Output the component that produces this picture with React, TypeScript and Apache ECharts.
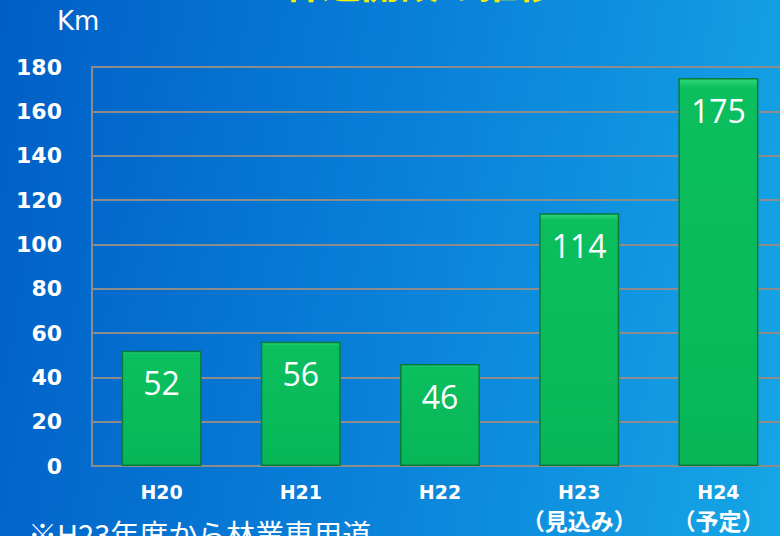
import React, { useEffect, useRef } from "react";
import * as echarts from "echarts";

const categories = ["H20", "H21", "H22", "H23\n（見込み）", "H24\n（予定）"];
const values = [52, 56, 46, 114, 175];
const yTicks = { min: 0, max: 180, interval: 20 };
const titleText = "林道開設の推移";
const unitText = "Km";
const noteText = "※H23年度から林業専用道";

export default function App() {
  const ref = useRef<HTMLDivElement>(null);
  useEffect(() => {
    if (!ref.current) return;
    const chart = echarts.init(ref.current, null, { renderer: "svg" });
    chart.setOption({
      animation: false,
      grid: { left: 92, top: 67, width: 696, bottom: 70, containLabel: false, outerBoundsMode: "none" },
      xAxis: {
        type: "category",
        data: categories,
        axisTick: { show: false },
        axisLine: { lineStyle: { color: "#8c8c8c", width: 2 } },
        axisLabel: {
          interval: 0,
          hideOverlap: false,
          color: "#ffffff",
          fontWeight: "bold",
          fontSize: 19,
          lineHeight: 27,
          margin: 12,
          fontFamily: "DejaVu Sans",
          verticalAlign: "top",
          formatter: (v: string) => {
            const parts = v.split("\n");
            return "{a|" + parts[0] + "}" + (parts[1] ? "\n{c|" + parts[1] + "}" : "");
          },
          rich: {
            a: {
              color: "#ffffff",
              fontSize: 19,
              fontWeight: "bold",
              lineHeight: 27,
              fontFamily: "DejaVu Sans",
            },
            c: {
              color: "#ffffff",
              fontSize: 23,
              fontWeight: "bold",
              lineHeight: 29,
              fontFamily: "Noto Sans CJK JP",
            },
          },
        },
      },
      yAxis: {
        type: "value",
        min: yTicks.min,
        max: yTicks.max,
        interval: yTicks.interval,
        axisTick: { show: false },
        axisLine: { show: true, lineStyle: { color: "#8c8c8c", width: 2 } },
        splitLine: { lineStyle: { color: "#8c8c8c", width: 2 } },
        axisLabel: {
          color: "#ffffff",
          fontWeight: "bold",
          fontSize: 22,
          margin: 30,
          fontFamily: "DejaVu Sans",
        },
      },
      series: [
        {
          type: "bar",
          data: values,
          barWidth: 80,
          itemStyle: {
            color: {
              type: "linear",
              x: 0, y: 0, x2: 0, y2: 1,
              colorStops: [
                { offset: 0, color: "#2fd67a" },
                { offset: 0.025, color: "#0bbf5e" },
                { offset: 1, color: "#08b658" },
              ],
            },
            borderColor: "#067a3a",
            borderWidth: 1.5,
          },
          label: {
            show: true,
            position: "insideTop",
            distance: 16,
            color: "#ffffff",
            fontSize: 32,
            fontFamily: "Open Sans",
          },
        },
      ],
      graphic: [
        {
          type: "text",
          left: 283,
          top: -39,
          style: {
            text: titleText,
            fill: "#f5f000",
            fontSize: 39,
            fontWeight: "bold",
            fontFamily: "Noto Sans CJK JP",
          },
        },
        {
          type: "text",
          left: 57,
          top: 8,
          style: {
            text: unitText,
            fill: "#ffffff",
            fontSize: 26,
            fontFamily: "DejaVu Sans",
          },
        },
        {
          type: "text",
          left: 28,
          top: 518,
          style: {
            text: noteText,
            fill: "#ffffff",
            fontSize: 29,
            fontFamily: "Noto Sans CJK JP",
          },
        },
      ],
    });
    return () => chart.dispose();
  }, []);
  return (
    <div
      ref={ref}
      style={{
        position: "fixed",
        left: 0,
        top: 0,
        width: 780,
        height: 536,
        background: "linear-gradient(100deg, #005ec6 0%, #0a84da 55%, #16a6e6 100%)",
      }}
    />
  );
}
